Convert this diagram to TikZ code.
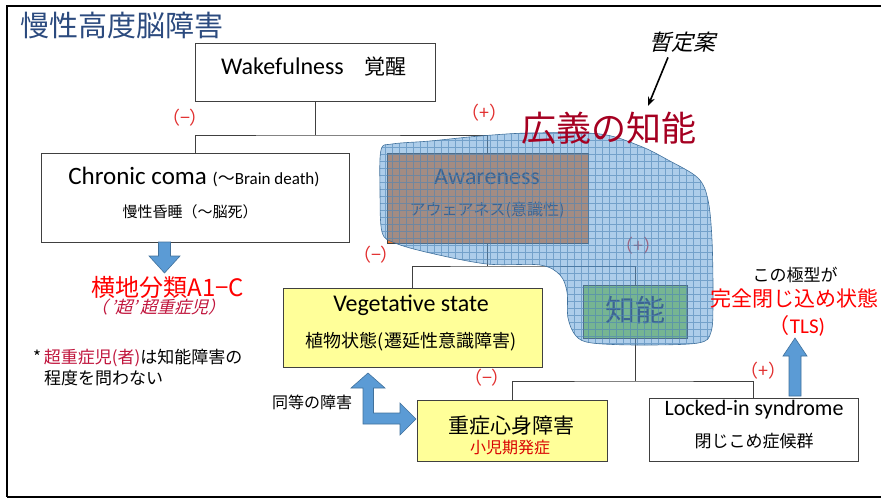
\documentclass[tikz,border=0pt]{standalone}
\usepackage{fontspec}
\setmainfont{Carlito}
\newfontfamily\jp{Noto Sans CJK JP}
\newfontfamily\jpi{Noto Sans CJK JP}[FakeSlant=0.25]
\usetikzlibrary{arrows.meta}
\definecolor{boxline}{RGB}{64,64,64}
\definecolor{titleblue}{RGB}{43,74,126}
\definecolor{arrowblue}{RGB}{91,155,213}
\definecolor{arrowedge}{RGB}{65,113,156}
\definecolor{lblred}{RGB}{225,45,45}
\definecolor{crimson}{RGB}{192,20,60}
\definecolor{darkred}{RGB}{165,0,33}
\definecolor{paleyellow}{RGB}{255,255,153}
\definecolor{orangebox}{RGB}{237,125,49}
\definecolor{greenbox}{RGB}{146,208,80}
\definecolor{awtext}{RGB}{30,45,80}
\definecolor{pure}{RGB}{255,0,0}
\newcommand\fsz[1]{\fontsize{#1pt}{#1pt}\selectfont}
\def\blobpath{plot[smooth cycle, tension=0.55] coordinates {(381,150) (392,144) (430,141) (480,136) (530,133) (600,134) (640,146) (668,160) (698,178) (708,200) (712,240) (713,300) (711,332) (698,343) (640,345) (592,343) (576,336) (568,318) (567,292) (560,275) (540,265) (487,264) (430,253) (395,243) (382,232) (380,190)}}
\begin{document}
\begin{tikzpicture}[x=1pt,y=-1pt,
  box/.style={draw=boxline, line width=0.9pt, fill=white, inner sep=0pt},
  ybox/.style={box, fill=paleyellow},
  conn/.style={draw=boxline, line width=0.9pt},
  txt/.style={inner sep=0pt, text=black},
  sign/.style={inner sep=0pt, text=lblred, font=\jp\fsz{18}},
  blockarrow/.style={fill=arrowblue, draw=arrowedge, line width=0.6pt, line join=miter}
]
\useasboundingbox (0,0) rectangle (881,499);
% frame
\draw[line width=2.5pt] (881,6) -- (7,6) -- (7,497);
\draw[line width=1.5pt] (7,497) -- (881,497);
% title
\node[txt, anchor=west, text=titleblue, font=\jp\fsz{29}] (title) at (20,26) {慢性高度脳障害};

% boxes
\node[box, minimum width=240, minimum height=58] (wake) at (315,72) {};
\node[box, minimum width=308, minimum height=89] (chronic) at (195,197.5) {};
\node[box, fill=orangebox, minimum width=201, minimum height=90] (aware) at (487.5,198) {};
\node[box, fill=greenbox, minimum width=104, minimum height=53] (chi) at (635,311.5) {};
\node[ybox, minimum width=259, minimum height=79] (veg) at (412.5,327.5) {};
\node[ybox, minimum width=190, minimum height=61] (jushin) at (512,430.5) {};
\node[box, minimum width=209, minimum height=63] (locked) at (753.5,429.5) {};

% connectors
\coordinate (j1) at (315,135);
\coordinate (j2) at (487.5,266);
\coordinate (j3) at (635,381);
\draw[conn] (wake.south) -- (j1);
\draw[conn] (chronic.north) |- (j1) -| (aware.north);
\draw[conn] (aware.south) -- (j2);
\draw[conn] (veg.north) |- (j2) -| (chi.north);
\draw[conn] (chi.south) -- (j3);
\draw[conn] (jushin.north) |- (j3) -| (locked.north);

% box texts
\node[txt, font=\fsz{24}] (waket) at (314,67) {Wakefulness{\jp\fsz{21}　覚醒}};
\node[txt, font=\fsz{25}] (chront) at (194,177) {Chronic coma {\fsz{17}({\jp ～}Brain death)}};
\node[txt, font=\jp\fsz{15}] (chronj) at (190,212) {慢性昏睡（～脳死）};
\node[txt, text=awtext, font=\fsz{24}] (awaret) at (487,177) {Awareness};
\node[txt, text=awtext, font=\jp\fsz{16}] (awarej) at (487,210) {アウェアネス(意識性)};
\node[txt, text=awtext, font=\jp\fsz{30}] (chit) at (635,310) {知能};
\node[txt, font=\fsz{24}] (vegt) at (411,305) {Vegetative state};
\node[txt, font=\jp\fsz{18}] (vegj) at (411,342) {植物状態(遷延性意識障害)};
\node[txt, font=\jp\fsz{21}] (jushint) at (511,426) {重症心身障害};
\node[txt, text=pure!85!black, font=\jp\fsz{16}] (jushinj) at (510,447) {小児期発症};
\node[txt, font=\fsz{22}] (lockedt) at (754,410) {Locked-in syndrome};
\node[txt, font=\jp\fsz{17}] (lockedj) at (754,441) {閉じこめ症候群};

% signs
\node[sign] (s1) at (185,118) {（−）};
\node[sign] (s2) at (484,113) {（+）};
\node[sign] (s3) at (376,255) {（−）};
\node[sign] (s4) at (638,246) {（+）};
\node[sign] (s5) at (487,378) {（−）};
\node[sign] (s6) at (763,371) {（+）};

% blob
\fill[arrowblue, fill opacity=0.5] \blobpath;
\begin{scope}
\clip \blobpath;
\draw[arrowblue!85!black, line width=0.8pt, opacity=0.6, step=7pt] (370,120) grid (720,350);
\end{scope}
\draw[arrowedge, line width=0.6pt] \blobpath;

\node[txt, text=darkred, font=\jp\fsz{35}] (kougi) at (609,128) {広義の知能};
\node[txt, font=\jpi\fsz{22}] (zantei) at (682,42) {暫定案};
\draw[-{Stealth[length=9pt,width=7pt]}, line width=1.6pt] (zantei.south) ++(-14,5) coordinate (za) -- (648,106) coordinate (zb);

% block arrows
\draw[blockarrow] (158.5,242) -- (170.5,242) -- (170.5,256) -- (180,256) -- (164.5,273) -- (149,256) -- (158.5,256) -- cycle;
\draw[blockarrow] (789,396) -- (801,396) -- (801,356) -- (807,356) -- (795,338) -- (783,356) -- (789,356) -- cycle;
\draw[blockarrow] (368,373) -- (385,388) -- (373.5,388) -- (373.5,413) -- (400,413) -- (400,403) -- (416,419) -- (400,435) -- (400,424) -- (363,424) -- (363,388) -- (351,388) -- cycle;

% free texts
\node[txt, text=pure, font=\jp\fsz{24}] (yokochi) at (168,287) {横地分類A1−C};
\node[txt, text=crimson, font=\jpi\fsz{17}] (chou) at (158,307) {（\,’超’\,超重症児）};
\node[txt, anchor=west, font=\jp\fsz{17}] (note1) at (33,358) {*\,{\color{crimson}超重症児(者)}は知能障害の};
\node[txt, anchor=west, font=\jp\fsz{17}] (note2) at (44,378) {程度を問わない};
\node[txt, font=\jp\fsz{16}] (doutou) at (312,402) {同等の障害};
\node[txt, font=\jp\fsz{17}] (kyoku) at (795,275) {この極型が};
\node[txt, text=pure, font=\jp\fsz{21}] (kanzen) at (794,298) {完全閉じ込め状態};
\node[txt, text=pure, font=\fsz{21}] (tls) at (797,326) {{\jp （}TLS)};
\end{tikzpicture}
\end{document}
